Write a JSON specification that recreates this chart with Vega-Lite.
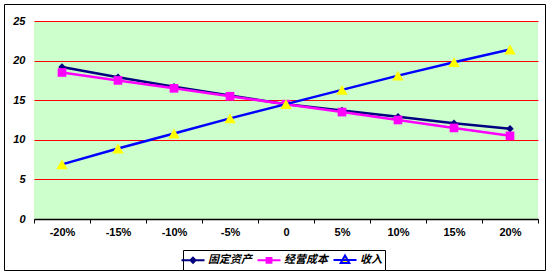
{
  "$schema": "https://vega.github.io/schema/vega-lite/v6.json",
  "width": 504,
  "height": 198,
  "autosize": {"type": "none"},
  "padding": {"left": 34, "top": 21, "right": 13, "bottom": 57},
  "background": "white",
  "config": {
    "view": {"fill": "#CCFFCC", "stroke": null},
    "font": "Liberation Sans"
  },
  "data": {
    "values": [
      {"pct": "-20%", "series": "固定资产", "value": 19.2},
      {"pct": "-15%", "series": "固定资产", "value": 17.9},
      {"pct": "-10%", "series": "固定资产", "value": 16.7},
      {"pct": "-5%", "series": "固定资产", "value": 15.6},
      {"pct": "0", "series": "固定资产", "value": 14.5},
      {"pct": "5%", "series": "固定资产", "value": 13.7},
      {"pct": "10%", "series": "固定资产", "value": 12.9},
      {"pct": "15%", "series": "固定资产", "value": 12.1},
      {"pct": "20%", "series": "固定资产", "value": 11.4},
      {"pct": "-20%", "series": "经营成本", "value": 18.5},
      {"pct": "-15%", "series": "经营成本", "value": 17.5},
      {"pct": "-10%", "series": "经营成本", "value": 16.5},
      {"pct": "-5%", "series": "经营成本", "value": 15.5},
      {"pct": "0", "series": "经营成本", "value": 14.5},
      {"pct": "5%", "series": "经营成本", "value": 13.5},
      {"pct": "10%", "series": "经营成本", "value": 12.5},
      {"pct": "15%", "series": "经营成本", "value": 11.5},
      {"pct": "20%", "series": "经营成本", "value": 10.5},
      {"pct": "-20%", "series": "收入", "value": 6.9},
      {"pct": "-15%", "series": "收入", "value": 8.9},
      {"pct": "-10%", "series": "收入", "value": 10.8},
      {"pct": "-5%", "series": "收入", "value": 12.7},
      {"pct": "0", "series": "收入", "value": 14.5},
      {"pct": "5%", "series": "收入", "value": 16.3},
      {"pct": "10%", "series": "收入", "value": 18.1},
      {"pct": "15%", "series": "收入", "value": 19.8},
      {"pct": "20%", "series": "收入", "value": 21.4}
    ]
  },
  "encoding": {
    "x": {
      "field": "pct",
      "type": "ordinal",
      "sort": ["-20%", "-15%", "-10%", "-5%", "0", "5%", "10%", "15%", "20%"],
      "bandPosition": 0.5,
      "scale": {"type": "band", "paddingInner": 0, "paddingOuter": 0},
      "axis": {
        "title": null,
        "labelAngle": 0,
        "tickBand": "extent",
        "domainColor": "#000000",
        "domainWidth": 1.5,
        "tickColor": "#000000",
        "tickSize": 4,
        "tickWidth": 1,
        "labelPadding": 3,
        "labelFont": "Liberation Sans",
        "labelFontSize": 11,
        "labelFontWeight": "bold",
        "labelColor": "#000000",
        "grid": false
      }
    },
    "y": {
      "field": "value",
      "type": "quantitative",
      "scale": {"domain": [0, 25], "nice": false},
      "axis": {
        "title": null,
        "values": [0, 5, 10, 15, 20, 25],
        "domain": false,
        "ticks": false,
        "grid": true,
        "gridColor": "#FF0000",
        "gridWidth": 1.2,
        "gridOpacity": 1,
        "labelPadding": 9,
        "labelFont": "Liberation Sans",
        "labelFontSize": 11,
        "labelFontWeight": "bold",
        "labelFontStyle": "italic",
        "labelColor": "#000000"
      }
    }
  },
  "layer": [
    {
      "transform": [{"filter": "datum.series === '固定资产'"}],
      "mark": {"type": "line", "color": "#000080", "strokeWidth": 2.5}
    },
    {
      "transform": [{"filter": "datum.series === '固定资产'"}],
      "mark": {"type": "point", "shape": "diamond", "filled": true, "color": "#000080", "size": 55, "opacity": 1}
    },
    {
      "transform": [{"filter": "datum.series === '经营成本'"}],
      "mark": {"type": "line", "color": "#FF00FF", "strokeWidth": 2.5}
    },
    {
      "transform": [{"filter": "datum.series === '经营成本'"}],
      "mark": {"type": "point", "shape": "square", "filled": true, "color": "#FF00FF", "size": 75, "opacity": 1}
    },
    {
      "transform": [{"filter": "datum.series === '收入'"}],
      "mark": {"type": "line", "color": "#0000FF", "strokeWidth": 2.5}
    },
    {
      "transform": [{"filter": "datum.series === '收入'"}],
      "mark": {"type": "point", "shape": "triangle-up", "filled": true, "color": "#FFFF00", "size": 130, "opacity": 1}
    },
    {
      "mark": {"type": "point", "filled": true, "opacity": 0},
      "encoding": {
        "color": {
          "field": "value",
          "type": "quantitative",
          "title": null,
          "legend": {
            "orient": "none", "legendX": -30, "legendY": -17, "direction": "vertical",
            "strokeColor": "#000000", "padding": 0,
            "gradientLength": 266, "gradientThickness": 541,
            "gradientOpacity": 0, "gradientStrokeWidth": 0,
            "values": [],
            "labelOffset": 0,
            "zindex": 0
          }
        }
      }
    },
    {
      "mark": {"type": "point", "filled": true, "opacity": 0},
      "encoding": {
        "shape": {
          "field": "series",
          "type": "nominal",
          "title": null,
          "scale": {
            "domain": ["固定资产", "经营成本", "收入"],
            "range": [
              "M-1.92,0H1.92M0,-0.42L0.42,0L0,0.42L-0.42,0Z",
              "M-1.92,0H1.92M-0.4,-0.4H0.4V0.4H-0.4Z",
              "M-1.92,0H1.92M0,-0.75L0.72,0.5H-0.72Z"
            ]
          },
          "legend": {
            "orient": "none", "legendX": 149, "legendY": 229, "direction": "horizontal",
            "strokeColor": "#000000", "fillColor": "#FFFFFF", "padding": 3,
            "symbolSize": 144, "symbolStrokeWidth": 2, "symbolOpacity": 1,
            "labelFont": "Noto Sans CJK SC", "labelFontSize": 11, "labelFontWeight": "bold",
            "labelFontStyle": "italic", "labelColor": "#000000", "labelOffset": 8, "columnPadding": 1
          }
        },
        "fill": {
          "field": "series",
          "type": "nominal",
          "title": null,
          "scale": {
            "domain": ["固定资产", "经营成本", "收入"],
            "range": ["#000080", "#FF00FF", "#FFFF00"]
          },
          "legend": {
            "orient": "none", "legendX": 149, "legendY": 229, "direction": "horizontal",
            "strokeColor": "#000000", "fillColor": "#FFFFFF", "padding": 3,
            "symbolSize": 144, "symbolStrokeWidth": 2, "symbolOpacity": 1,
            "labelFont": "Noto Sans CJK SC", "labelFontSize": 11, "labelFontWeight": "bold",
            "labelFontStyle": "italic", "labelColor": "#000000", "labelOffset": 8, "columnPadding": 1
          }
        },
        "stroke": {
          "field": "series",
          "type": "nominal",
          "title": null,
          "scale": {
            "domain": ["固定资产", "经营成本", "收入"],
            "range": ["#000080", "#FF00FF", "#0000FF"]
          },
          "legend": {
            "orient": "none", "legendX": 149, "legendY": 229, "direction": "horizontal",
            "strokeColor": "#000000", "fillColor": "#FFFFFF", "padding": 3,
            "symbolSize": 144, "symbolStrokeWidth": 2, "symbolOpacity": 1,
            "labelFont": "Noto Sans CJK SC", "labelFontSize": 11, "labelFontWeight": "bold",
            "labelFontStyle": "italic", "labelColor": "#000000", "labelOffset": 8, "columnPadding": 1
          }
        }
      }
    }
  ]
}
